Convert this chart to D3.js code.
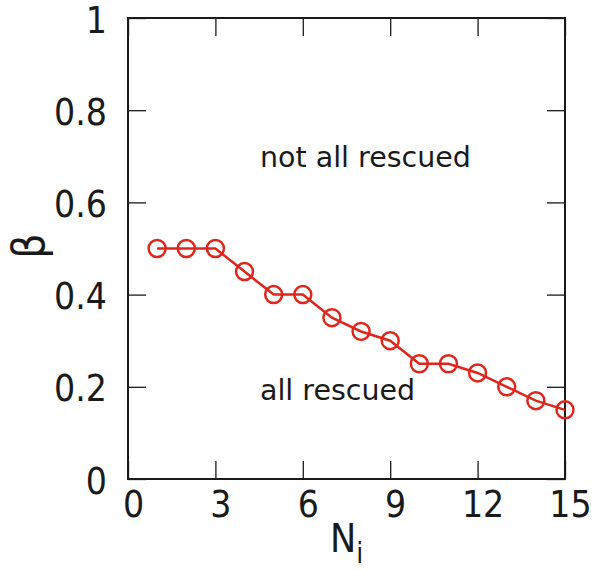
<!DOCTYPE html>
<html>
<head>
<meta charset="utf-8">
<script src="https://cdn.jsdelivr.net/npm/d3@7"></script>
<style>
  body { margin: 0; background: #fff; }
  text { font-family: "DejaVu Sans Condensed", "DejaVu Sans", sans-serif; fill: #1a1a1a; }
  text.region { font-family: "DejaVu Sans", sans-serif; }
</style>
</head>
<body>
<div id="chart"></div>
<script>
var svgWidth = 593;
var svgHeight = 570;

var margin = { top: 18, right: 28, bottom: 91, left: 128 };
var width = svgWidth - margin.left - margin.right;
var height = svgHeight - margin.top - margin.bottom;

// data
var nValues = [1, 2, 3, 4, 5, 6, 7, 8, 9, 10, 11, 12, 13, 14, 15];
var betaValues = [0.5, 0.5, 0.5, 0.45, 0.4, 0.4, 0.35, 0.32, 0.3, 0.25, 0.25, 0.23, 0.2, 0.17, 0.15];
var xTicks = [0, 3, 6, 9, 12, 15];
var yTicks = [0, 0.2, 0.4, 0.6, 0.8, 1];
var regionTexts = ["not all rescued", "all rescued"];
var regionPos = [[4.53, 0.677], [4.53, 0.171]];

var data = nValues.map((n, i) => ({ n: n, beta: betaValues[i] }));

var svg = d3.select("#chart")
  .append("svg")
  .attr("width", svgWidth)
  .attr("height", svgHeight);

var chartGroup = svg.append("g")
  .attr("transform", `translate(${margin.left}, ${margin.top})`);

var xScale = d3.scaleLinear().domain([0, 15]).range([0, width]);
var yScale = d3.scaleLinear().domain([0, 1]).range([height, 0]);

var tickLen = 18;

// axes with inward ticks on all four sides
function styleAxis(g) {
  g.select(".domain").remove();
  g.selectAll(".tick line").attr("stroke", "#1a1a1a").attr("stroke-width", 1.3);
  g.selectAll(".tick text").attr("font-size", "37px").attr("fill", "#1a1a1a");
}

chartGroup.append("g")
  .attr("transform", `translate(0, ${height})`)
  .call(d3.axisBottom(xScale).tickValues(xTicks).tickSize(-tickLen).tickFormat(d3.format("d")))
  .call(styleAxis)
  .call(g => g.selectAll(".tick text").attr("dy", 0).attr("y", 38).attr("dx", 5));

chartGroup.append("g")
  .call(d3.axisTop(xScale).tickValues(xTicks).tickSize(-tickLen).tickFormat(""))
  .call(styleAxis);

chartGroup.append("g")
  .call(d3.axisLeft(yScale).tickValues(yTicks).tickSize(-tickLen).tickFormat(d3.format("~g")))
  .call(styleAxis)
  .call(g => g.selectAll(".tick text").attr("x", -21).attr("dy", "0.38em"));

chartGroup.append("g")
  .attr("transform", `translate(${width}, 0)`)
  .call(d3.axisRight(yScale).tickValues(yTicks).tickSize(-tickLen).tickFormat(""))
  .call(styleAxis);

// frame
chartGroup.append("rect")
  .attr("width", width)
  .attr("height", height)
  .attr("fill", "none")
  .attr("stroke", "#1a1a1a")
  .attr("stroke-width", 2);

// line + open circles
var line = d3.line()
  .x(d => xScale(d.n))
  .y(d => yScale(d.beta));

chartGroup.append("path")
  .datum(data)
  .attr("d", line)
  .attr("fill", "none")
  .attr("stroke", "#e0261c")
  .attr("stroke-width", 2.5);

chartGroup.selectAll("circle")
  .data(data)
  .enter()
  .append("circle")
  .attr("cx", d => xScale(d.n))
  .attr("cy", d => yScale(d.beta))
  .attr("r", 8.5)
  .attr("fill", "none")
  .attr("stroke", "#e0261c")
  .attr("stroke-width", 2.5);

// region labels
chartGroup.selectAll(".region")
  .data(regionTexts)
  .enter()
  .append("text")
  .attr("class", "region")
  .attr("x", (d, i) => xScale(regionPos[i][0]))
  .attr("y", (d, i) => yScale(regionPos[i][1]))
  .attr("font-size", "28.5px")
  .text(d => d);

// axis titles
var xTitle = svg.append("text")
  .attr("x", margin.left + width / 2)
  .attr("y", 552)
  .attr("text-anchor", "middle")
  .attr("font-size", "39px");
xTitle.append("tspan").text("N");
xTitle.append("tspan").attr("font-size", "28px").attr("dy", 11).text("i");

svg.append("text")
  .attr("transform", "translate(44, 246) rotate(-90)")
  .attr("text-anchor", "middle")
  .attr("font-size", "44px")
  .text("β");
</script>
</body>
</html>
